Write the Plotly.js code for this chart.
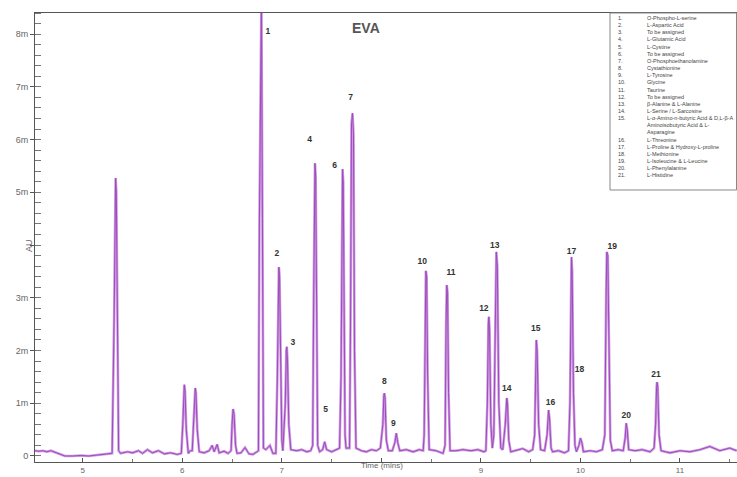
<!DOCTYPE html>
<html>
<head>
<meta charset="utf-8">
<script src="https://cdn.plot.ly/plotly-3.0.1.min.js"></script>
<style>
html,body{margin:0;padding:0;background:#fff;}
#chart{width:737px;height:477px;}
</style>
</head>
<body>
<div id="chart"></div>
<script>
// Chromatogram trace: time (min) and signal (mAU)
const time = [
4.52,4.56,4.60,4.64,4.68,4.72,4.76,4.82,4.90,4.98,5.06,5.14,5.22,5.27,
5.295,5.315,5.325,5.33,5.337,5.345,5.36,5.38,5.45,5.50,5.56,5.60,5.65,5.70,5.76,5.82,5.88,5.95,5.99,
6.005,6.015,6.02,6.027,6.04,6.06,6.08,
6.10,6.115,6.125,6.13,6.137,6.15,6.17,6.22,6.27,6.30,6.32,6.35,6.37,6.42,6.46,
6.49,6.50,6.51,6.52,6.535,6.55,6.59,6.63,6.67,6.71,6.74,
6.765,6.775,6.785,6.795,6.805,6.815,6.84,6.88,6.91,6.94,
6.955,6.965,6.97,6.977,6.99,7.00,7.01,
7.035,7.045,7.05,7.057,7.07,7.09,7.15,7.20,7.25,7.29,
7.31,7.32,7.327,7.333,7.34,7.35,7.36,7.38,7.41,7.43,7.45,7.50,7.55,7.58,
7.595,7.603,7.61,7.617,7.625,7.635,7.645,
7.68,7.69,7.70,7.71,7.72,7.73,7.745,7.80,7.85,7.90,7.95,7.99,
8.015,8.025,8.03,8.037,8.05,8.07,8.11,
8.135,8.15,8.165,8.185,8.25,8.32,8.38,8.42,
8.43,8.44,8.447,8.455,8.465,8.48,8.55,8.62,
8.64,8.65,8.657,8.665,8.675,8.69,8.75,8.82,8.90,8.97,9.03,9.05,
9.065,9.075,9.08,9.087,9.10,9.115,9.13,9.145,9.155,9.165,9.18,9.20,9.22,
9.245,9.255,9.26,9.267,9.28,9.30,9.35,9.42,9.48,9.52,
9.54,9.55,9.557,9.565,9.58,9.60,9.64,
9.665,9.675,9.68,9.69,9.705,9.72,9.78,9.84,9.88,
9.895,9.905,9.91,9.917,9.93,9.945,9.96,
9.985,10.00,10.015,10.03,10.10,10.16,10.22,
10.245,10.258,10.265,10.275,10.285,10.30,10.32,10.38,10.43,
10.45,10.46,10.47,10.485,10.55,10.62,10.70,10.74,
10.755,10.765,10.77,10.777,10.79,10.81,10.90,11.00,11.10,11.20,11.30,11.40,11.50,11.57
];
const signal = [
0.10,0.09,0.10,0.08,0.10,0.07,0.03,0.00,0.00,0.01,0.00,0.02,0.03,0.05,
0.05,2.6,5.0,5.27,5.0,2.6,0.10,0.05,0.08,0.06,0.10,0.05,0.12,0.06,0.10,0.04,0.06,0.03,0.05,
0.6,1.3,1.35,1.25,0.5,0.05,0.10,
0.10,0.7,1.25,1.29,1.2,0.5,0.08,0.06,0.10,0.20,0.08,0.22,0.06,0.09,0.05,
0.10,0.6,0.89,0.8,0.2,0.05,0.06,0.16,0.04,0.03,0.06,
0.10,4.5,8.7,8.7,4.5,0.15,0.12,0.20,0.05,0.05,
1.5,3.4,3.58,3.4,1.0,0.3,0.10,
1.0,2.0,2.07,1.8,0.6,0.12,0.10,0.12,0.08,0.10,
0.2,3.0,5.4,5.55,5.3,2.5,0.2,0.08,0.12,0.27,0.12,0.08,0.12,0.15,
1.5,5.2,5.44,5.2,2.0,0.4,0.15,
0.15,2.5,6.3,6.5,6.1,2.0,0.15,0.10,0.08,0.12,0.10,0.15,
0.6,1.15,1.19,1.1,0.3,0.10,0.10,
0.25,0.43,0.25,0.10,0.12,0.08,0.12,0.10,
0.4,3.0,3.51,3.4,1.5,0.12,0.10,0.05,
0.2,2.5,3.24,3.1,1.2,0.10,0.10,0.12,0.10,0.12,0.08,0.10,
1.0,2.5,2.64,2.4,0.6,0.15,0.4,2.5,3.87,3.6,1.0,0.15,0.12,
0.6,1.05,1.10,1.0,0.3,0.08,0.10,0.14,0.08,0.12,
0.4,1.8,2.20,2.0,0.6,0.12,0.10,
0.4,0.85,0.87,0.7,0.15,0.08,0.10,0.06,0.10,
1.0,3.6,3.77,3.5,1.2,0.2,0.08,
0.2,0.34,0.25,0.08,0.10,0.08,0.12,
0.4,3.0,3.87,3.8,2.0,0.3,0.10,0.12,0.10,
0.35,0.62,0.5,0.12,0.10,0.12,0.08,0.15,
0.6,1.3,1.40,1.3,0.4,0.10,0.06,0.10,0.08,0.12,0.18,0.10,0.15,0.10
];

// Peak number labels
const peakLabels = ["1","2","3","4","5","6","7","8","9","10","11","12","13","14","15","16","17","18","19","20","21"];
const labelTime = [6.86,6.95,7.11,7.28,7.44,7.53,7.69,8.03,8.12,8.41,8.70,9.03,9.14,9.26,9.55,9.70,9.91,9.99,10.32,10.46,10.76];
const labelValue = [8.04,3.83,2.14,5.99,0.87,5.50,6.79,1.40,0.61,3.68,3.47,2.79,3.98,1.27,2.41,1.00,3.87,1.63,3.96,0.76,1.54];

// Axis ticks
const yTickVals = [0,1,2,3,4,5,6,7,8];
const yTickText = ["0","1m","2m","3m","","5m","6m","7m","8m"];
const xTickVals = [5,6,7,8,9,10,11];
const xTickText = ["5","6","7","","9","10","11"];

// Peak identification list
const legendNums = ["1.","2.","3.","4.","5.","6.","7.","8.","9.","10.","11.","12.","13.","14.","15."," "," ","16.","17.","18.","19.","20.","21."];
const legendNames = [
"O-Phospho-L-serine","L-Aspartic Acid","To be assigned","L-Glutamic Acid","L-Cystine",
"To be assigned","O-Phosphoethanolamine","Cystathionine","L-Tyrosine","Glycine","Taurine",
"To be assigned","\u03b2-Alanine & L-Alanine","L-Serine / L-Sarcosine",
"L-\u03b1-Amino-n-butyric Acid & D,L-\u03b2-A","Aminoisobutyric Acid & L-","Asparagine",
"L-Threonine","L-Proline & Hydroxy-L-proline","L-Methionine","L-Isoleucine & L-Leucine",
"L-Phenylalanine","L-Histidine"
];

const L = 35, R = 0, T = 13, B = 15, W = 737, H = 477;
const px = x => (x - L) / (W - L - R);
const py = y => (H - B - y) / (H - T - B);

const traces = [
  {x: time, y: signal, type: 'scatter', mode: 'lines',
   line: {color: '#cf9ae2', width: 2.6}, hoverinfo: 'skip', showlegend: false},
  {x: time, y: signal, type: 'scatter', mode: 'lines',
   line: {color: '#9c4bbb', width: 1}, hoverinfo: 'skip', showlegend: false},
  {x: labelTime, y: labelValue, type: 'scatter', mode: 'text', text: peakLabels,
   textposition: 'middle center',
   textfont: {family: 'Arial, Liberation Sans, sans-serif', size: 8.5, color: '#333', weight: 'bold'},
   hoverinfo: 'skip', showlegend: false}
];

const annFont = {family: 'Arial, Liberation Sans, sans-serif'};
const layout = {
  width: W, height: H,
  margin: {l: L, r: R, t: T, b: B, pad: 0},
  paper_bgcolor: '#fff', plot_bgcolor: '#fff',
  showlegend: false,
  font: {family: 'Arial, Liberation Sans, sans-serif', size: 9, color: '#666'},
  xaxis: {
    range: [4.52, 11.573], showgrid: false, zeroline: false,
    showline: true, linecolor: '#555', linewidth: 1, mirror: true,
    tickmode: 'array', tickvals: xTickVals, ticktext: xTickText,
    ticks: 'inside', ticklen: 4, tickcolor: '#555',
    tickfont: {size: 8, color: '#666'},
    minor: {dtick: 0.5, ticks: 'inside', ticklen: 3, tickcolor: '#777', showgrid: false}
  },
  yaxis: {
    range: [-0.114, 8.40], showgrid: false, zeroline: false,
    showline: true, linecolor: '#555', linewidth: 1,
    tickmode: 'array', tickvals: yTickVals, ticktext: yTickText,
    ticks: 'outside', ticklen: 4, tickcolor: '#555',
    tickfont: {size: 9, color: '#666'},
    minor: {dtick: 0.2, ticks: 'inside', ticklen: 6, tickcolor: '#777', showgrid: false}
  },
  shapes: [
    {type: 'rect', xref: 'paper', yref: 'paper', x0: px(610), x1: px(736.5), y0: py(190), y1: py(13),
     line: {color: '#888', width: 1}, fillcolor: 'rgba(255,255,255,0)'}
  ],
  annotations: [
    {xref: 'paper', yref: 'paper', x: px(366), y: py(18), text: 'EVA', showarrow: false,
     font: Object.assign({size: 14, color: '#555', weight: 'bold'}, annFont)},
    {xref: 'paper', yref: 'paper', x: px(382), y: py(472), text: 'Time (mins)', showarrow: false,
     font: Object.assign({size: 8, color: '#666'}, annFont)},
    {xref: 'paper', yref: 'paper', x: px(22), y: py(246), text: 'AU', showarrow: false, textangle: -90,
     font: Object.assign({size: 9, color: '#666'}, annFont)},
    {xref: 'paper', yref: 'paper', x: px(616), y: py(13), xanchor: 'left', yanchor: 'top', align: 'left',
     text: legendNums.join('<br>'), showarrow: false,
     font: Object.assign({size: 5.5, color: '#444'}, annFont)},
    {xref: 'paper', yref: 'paper', x: px(645), y: py(13), xanchor: 'left', yanchor: 'top', align: 'left',
     text: legendNames.join('<br>'), showarrow: false,
     font: Object.assign({size: 5.5, color: '#444'}, annFont)}
  ]
};

Plotly.newPlot('chart', traces, layout, {displayModeBar: false, staticPlot: true});
</script>
</body>
</html>
